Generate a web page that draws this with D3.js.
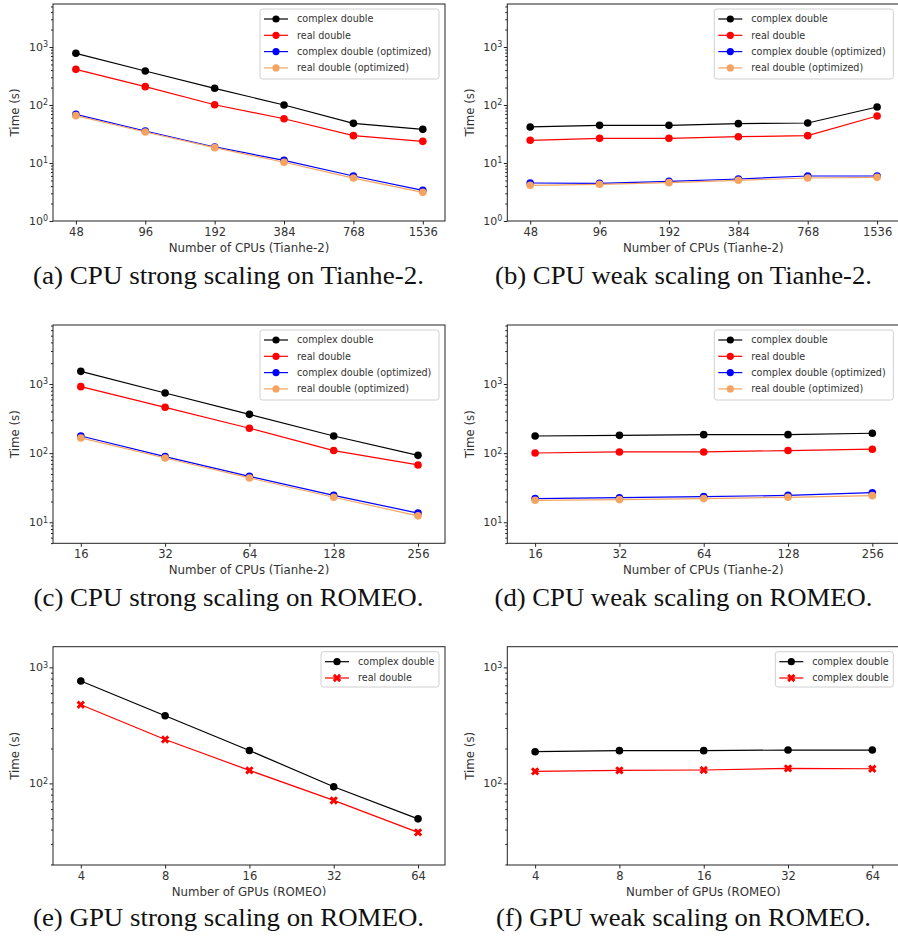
<!DOCTYPE html>
<html>
<head>
<meta charset="utf-8">
<script src="https://cdn.jsdelivr.net/npm/d3@7"></script>
<style>
  body { margin: 0; background: #fff; }
  text { font-family: "DejaVu Sans", sans-serif; fill: #333; }
  .caption { font-family: "Liberation Serif", serif; fill: #111; }
</style>
</head>
<body>
<script>
const W = 898, H = 939;

// * X VALUES
const cpusTianhe = [48, 96, 192, 384, 768, 1536];
const cpusRomeo = [16, 32, 64, 128, 256];
const gpusRomeo = [4, 8, 16, 32, 64];

// * (a) CPU strong scaling, Tianhe-2
const aComplex = [778, 386, 194, 100, 48.3, 38];
const aReal = [412, 207, 101, 58, 29.6, 23.6];
const aComplexOpt = [69, 35.6, 18.9, 11.1, 5.97, 3.38];
const aRealOpt = [65.5, 34.2, 18.4, 10.3, 5.5, 3.12];
// * (b) CPU weak scaling, Tianhe-2
const bComplex = [41.8, 44.6, 44.6, 47.7, 48.9, 92.4];
const bReal = [24.6, 26.6, 26.6, 28.4, 29.6, 64.6];
const bComplexOpt = [4.52, 4.46, 4.83, 5.3, 5.97, 5.97];
const bRealOpt = [4.12, 4.29, 4.58, 5.03, 5.51, 5.66];
// * (c) CPU strong scaling, ROMEO
const cComplex = [1524, 741, 364, 177, 93];
const cReal = [915, 460, 229, 109, 67.5];
const cComplexOpt = [177, 89, 46.2, 24.5, 13.6];
const cRealOpt = [166, 85, 43.8, 23, 12.4];
// * (d) CPU weak scaling, ROMEO
const dComplex = [177, 181, 185, 185, 194];
const dReal = [100.5, 104, 104, 109, 114];
const dComplexOpt = [22, 22.7, 23.5, 24.5, 26.8];
const dRealOpt = [20.8, 21.3, 22, 23, 24.3];
// * (e) GPU strong scaling, ROMEO
const eComplex = [762, 383, 192, 93.6, 49.5];
const eReal = [476, 239, 129.5, 71.3, 37.8];
// * (f) GPU weak scaling, ROMEO
const fComplex = [187.5, 191.5, 191.5, 193.8, 193.8];
const fReal = [126.8, 129.5, 130.4, 134.7, 133.7];

// * LABELS
const cpuNames = ["complex double", "real double", "complex double (optimized)", "real double (optimized)"];
const gpuStrongNames = ["complex double", "real double"];
const gpuWeakNames = ["complex double", "complex double"];
const xLabelCpu = "Number of CPUs (Tianhe-2)";
const xLabelGpu = "Number of GPUs (ROMEO)";
const yLabel = "Time (s)";
const captions = [
	"(a) CPU strong scaling on Tianhe-2.",
	"(b) CPU weak scaling on Tianhe-2.",
	"(c) CPU strong scaling on ROMEO.",
	"(d) CPU weak scaling on ROMEO.",
	"(e) GPU strong scaling on ROMEO.",
	"(f) GPU weak scaling on ROMEO.",
];
const yDomainTianhe = [1, 5510];
const yDomainRomeoCpu = [4.97, 7130];
const yDomainRomeoGpu = [19.8, 1507];

const colors = ["#000000", "#ff0000", "#0000ff", "#f4a460"];

const svg = d3.select("body").append("svg").attr("width", W).attr("height", H);

const plotW = 392;
const colLeft = [53, 507.3];
const colYLabel = [15, 469.7];
const colCaptionX = [228.5, 683.5];
const captionW = [[391, 377], [390, 378], [391, 375]];

const rows = [
	{ top: 4, bottom: 221, capY: 284, clipY: null, xs: cpusTianhe, xlabel: xLabelCpu, ydom: yDomainTianhe,
		sets: [[aComplex, aReal, aComplexOpt, aRealOpt], [bComplex, bReal, bComplexOpt, bRealOpt]],
		names: [cpuNames, cpuNames], marker: "o" },
	{ top: 325, bottom: 543.3, capY: 606, clipY: 574.5, xs: cpusRomeo, xlabel: xLabelCpu, ydom: yDomainRomeoCpu,
		sets: [[cComplex, cReal, cComplexOpt, cRealOpt], [dComplex, dReal, dComplexOpt, dRealOpt]],
		names: [cpuNames, cpuNames], marker: "o" },
	{ top: 646.7, bottom: 865, capY: 926, clipY: 896, xs: gpusRomeo, xlabel: xLabelGpu, ydom: yDomainRomeoGpu,
		sets: [[eComplex, eReal], [fComplex, fReal]],
		names: [gpuStrongNames, gpuWeakNames], marker: "X" },
];

const xSym = d3.symbol(d3.symbolCross).size(44);

function marker(g, kind, cx, cy, color, r) {
	if (kind === "X") {
		g.append("path")
			.attr("d", xSym())
			.attr("transform", `translate(${cx},${cy}) rotate(45)`)
			.attr("fill", color);
	} else {
		g.append("circle").attr("cx", cx).attr("cy", cy).attr("r", r).attr("fill", color);
	}
}

rows.forEach((row, ri) => {
	[0, 1].forEach((col) => {
		const left = colLeft[col];
		const g = svg.append("g");
		const n = row.xs.length;
		// * SCALES
		const x = d3.scaleLog().base(2)
			.domain([row.xs[0] / 2 ** 0.33, row.xs[n - 1] * 2 ** 0.32])
			.range([left, left + plotW]);
		const y = d3.scaleLog().domain(row.ydom).range([row.bottom, row.top]);

		// * AXES
		const allTicks = y.ticks();
		const isMajor = (t) => Math.abs(Math.log10(t) - Math.round(Math.log10(t))) < 1e-9;
		g.append("g")
			.attr("transform", `translate(${left},0)`)
			.call(d3.axisLeft(y).tickValues(allTicks.filter((t) => !isMajor(t))).tickSize(2).tickSizeOuter(0).tickFormat(""))
			.call((a) => a.select(".domain").remove())
			.call((a) => a.selectAll("line").attr("stroke", "#222"));
		const yMajor = g.append("g")
			.attr("transform", `translate(${left},0)`)
			.call(d3.axisLeft(y).tickValues(allTicks.filter(isMajor)).tickSize(3.5).tickSizeOuter(0).tickFormat(""))
			.call((a) => a.select(".domain").remove())
			.call((a) => a.selectAll("line").attr("stroke", "#222"));
		yMajor.selectAll(".tick").each(function (t) {
			const txt = d3.select(this).append("text")
				.attr("x", -5).attr("dy", "0.32em")
				.attr("text-anchor", "end")
				.style("font-size", "11px");
			txt.append("tspan").text("10");
			txt.append("tspan").attr("dy", "-0.45em").style("font-size", "8px").text(Math.round(Math.log10(t)));
		});

		g.append("g")
			.attr("transform", `translate(0,${row.bottom})`)
			.call(d3.axisBottom(x).tickValues(row.xs).tickFormat(d3.format("d")).tickSize(3.5).tickSizeOuter(0).tickPadding(3))
			.call((a) => a.select(".domain").remove())
			.call((a) => a.selectAll("line").attr("stroke", "#222"))
			.call((a) => a.selectAll("text").attr("fill", "#333").style("font-size", "11.5px")
				.style("font-family", "DejaVu Sans"));

		// * FRAME
		g.append("rect")
			.attr("x", left).attr("y", row.top)
			.attr("width", plotW).attr("height", row.bottom - row.top)
			.attr("fill", "none").attr("stroke", "#222").attr("stroke-width", 1);

		// * AXIS LABELS
		const clipId = `clip${ri}${col}`;
		if (row.clipY) {
			svg.append("clipPath").attr("id", clipId)
				.append("rect").attr("x", left - 60).attr("y", 0).attr("width", 460).attr("height", row.clipY);
		}
		g.append("text")
			.attr("x", left + plotW / 2).attr("y", row.bottom + 26.5)
			.attr("dy", "0.35em").attr("text-anchor", "middle")
			.attr("clip-path", row.clipY ? `url(#${clipId})` : null)
			.style("font-size", "11.8px").text(row.xlabel);
		g.append("text")
			.attr("transform", `translate(${colYLabel[col]},${(row.top + row.bottom) / 2}) rotate(-90)`)
			.attr("dy", "0.35em").attr("text-anchor", "middle")
			.style("font-size", "11.8px").text(yLabel);

		// * SERIES
		const series = row.sets[col];
		const line = d3.line().x((d, i) => x(row.xs[i])).y((d) => y(d));
		series.forEach((vals, si) => {
			g.append("path").datum(vals)
				.attr("d", line)
				.attr("fill", "none").attr("stroke", colors[si]).attr("stroke-width", 1.2);
			const kind = si === 1 ? row.marker : "o";
			vals.forEach((v, i) => marker(g, kind, x(row.xs[i]), y(v), colors[si], 3.8));
		});

		// * LEGEND
		const names = row.names[col];
		const lw = names.length > 2 ? 179 : 118;
		const lh = names.length > 2 ? 70 : 35.3;
		const lx = left + plotW - 6 - lw;
		const ly = row.top + 5;
		const leg = g.append("g").attr("transform", `translate(${lx},${ly})`);
		leg.append("rect").attr("width", lw).attr("height", lh).attr("rx", 2.5)
			.attr("fill", "#fff").attr("fill-opacity", 0.85).attr("stroke", "#d0d0d0");
		names.forEach((name, i) => {
			const cy = 10 + i * 16.3;
			leg.append("line").attr("x1", 4).attr("x2", 28).attr("y1", cy).attr("y2", cy)
				.attr("stroke", colors[i]).attr("stroke-width", 1.2);
			const kind = i === 1 ? row.marker : "o";
			marker(leg, kind, 16, cy, colors[i], 3.6);
			leg.append("text").attr("x", 37).attr("y", cy).attr("dy", "0.35em")
				.style("font-size", "9.6px").text(name);
		});

		// * CAPTION
		svg.append("text").attr("class", "caption")
			.attr("x", colCaptionX[col]).attr("y", row.capY)
			.attr("text-anchor", "middle")
			.attr("textLength", captionW[ri][col]).attr("lengthAdjust", "spacingAndGlyphs")
			.style("font-size", "25px").text(captions[ri * 2 + col]);
	});
});
</script>
</body>
</html>
